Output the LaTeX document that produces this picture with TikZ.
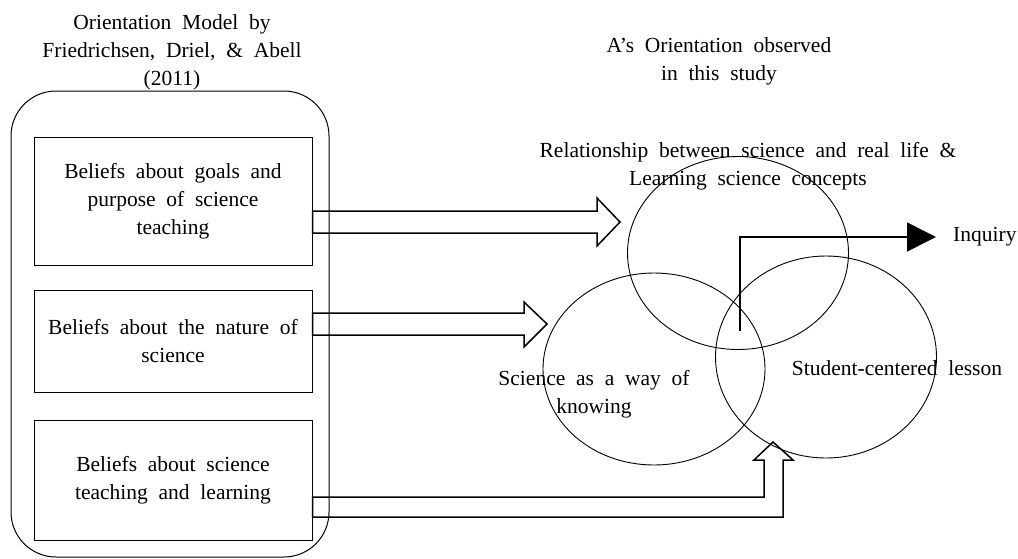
\documentclass[tikz,border=0pt]{standalone}
\usepackage{fontspec}
\setmainfont{Liberation Serif}[WordSpace=2]
\usetikzlibrary{arrows.meta,shapes.geometric}

\begin{document}
\begin{tikzpicture}[x=1pt,y=-1pt]
\tikzset{every node/.style={font=\fontsize{21.5}{28}\selectfont,align=center},
  belief/.style={draw,line width=1pt,minimum width=278pt,minimum height=#1,inner sep=0pt},
  ring/.style={draw,ellipse,line width=0.9pt,inner sep=0pt},
  blockarrow/.style={draw,line width=1.5pt,line join=miter}}
\useasboundingbox (0,0) rectangle (1018,558);
% left side: the model
\node (modelLabel) at (172,52) {Orientation Model by\\Friedrichsen, Driel, \& Abell\\(2011)};
\node[draw,line width=1pt,rounded corners=45pt,minimum width=318pt,minimum height=466pt,inner sep=0pt] (modelFrame) at (170,324) {};
\node[belief=128pt] (goals) at (173,201) {Beliefs about goals and\\purpose of science\\teaching};
\node[belief=102pt] (nature) at (173,341) {Beliefs about the nature of\\science};
\node[belief=120pt] (teach) at (173,480) {Beliefs about science\\teaching and learning};
% right side: what was observed
\node (studyLabel) at (719,61) {A's Orientation observed\\in this study};
\node[ring,minimum width=221pt,minimum height=193pt] (relRing) at (738,253) {};
\node[ring,minimum width=222pt,minimum height=192pt] (wayRing) at (654,369) {};
\node[ring,minimum width=221pt,minimum height=202pt] (studRing) at (826,357) {};
\node (relLabel) at (748,166) {Relationship between science and real life \&\\Learning science concepts};
\node (wayLabel) at (594,394) {Science as a way of\\knowing};
\node (studLabel) at (897,368) {Student-centered lesson};
\node[anchor=west,inner sep=0pt] (inquiry) at (953,237) {Inquiry};
% block arrows
\draw[blockarrow] (goals.east |- 0,211) -- (597,211) -- (597,198) -- (620,222) -- (597,246) -- (597,233) -- (goals.east |- 0,233) -- cycle;
\draw[blockarrow] (nature.east |- 0,313) -- (524,313) -- (524,302) -- (547,324) -- (524,347) -- (524,335) -- (nature.east |- 0,335) -- cycle;
\draw[blockarrow] (teach.east |- 0,497) -- (764,497) -- (764,460) -- (754,460) -- (773,442) -- (793,460) -- (783,460) -- (783,517) -- (teach.east |- 0,517) -- cycle;
% to inquiry
\coordinate (inqFoot) at (740,331);
\draw[line width=1.5pt,-{Triangle[length=29pt,width=29pt]},shorten >=17pt] (inqFoot) |- (inquiry.west);
\end{tikzpicture}
\end{document}
